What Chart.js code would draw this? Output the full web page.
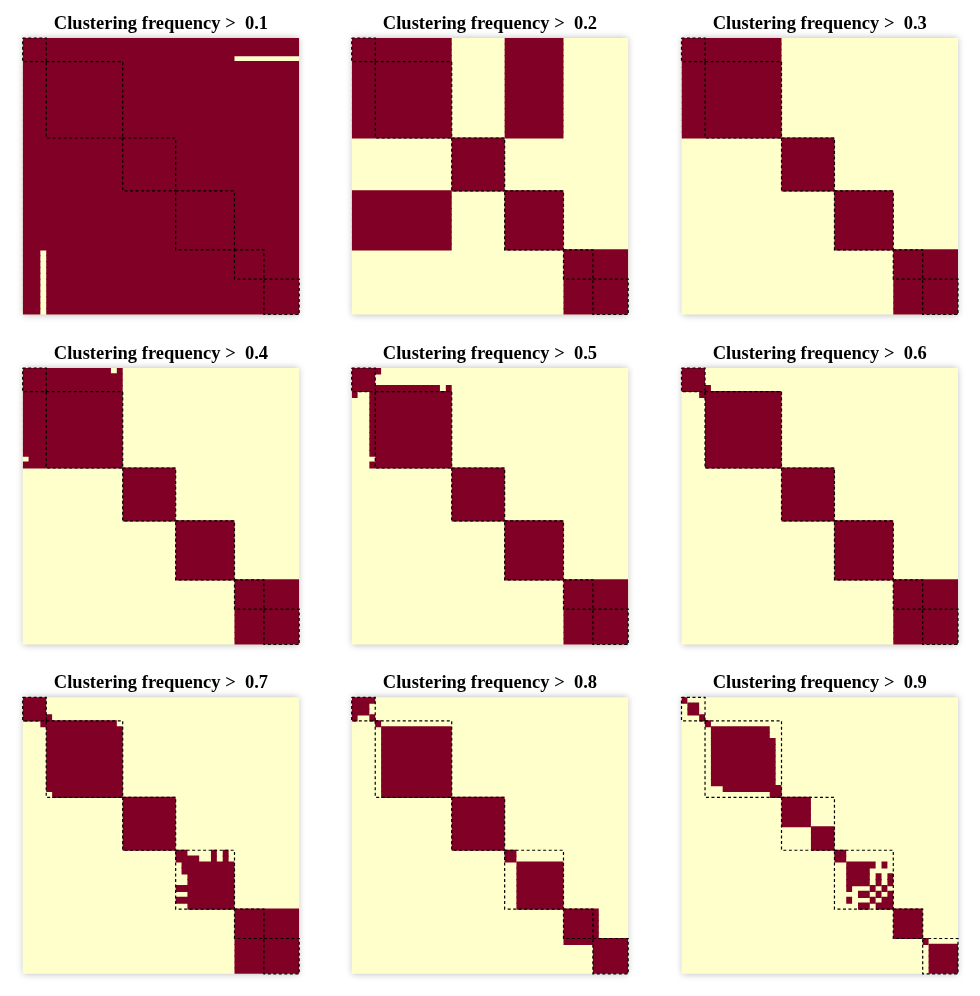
<!DOCTYPE html>
<html>
<head>
<meta charset="utf-8">
<script src="https://cdn.jsdelivr.net/npm/chart.js@4"></script>
<style>
  body { margin: 0; background: #fff; }
  #wrap { position: relative; width: 980px; height: 996px; }
  #wrap canvas { position: absolute; }
</style>
</head>
<body>
<div id="wrap"></div>
<script>
// 47 items, ordered as in the figure
var nItems = 47;
var thresholds = ['0.1', '0.2', '0.3', '0.4', '0.5', '0.6', '0.7', '0.8', '0.9'];

// reference clustering (dashed boxes), first/last item of each cluster
var refClusters = [[0, 3], [4, 16], [17, 25], [26, 35], [36, 40], [41, 46]];

// co-clustered blocks per threshold: [row from, row to, col from, col to] (symmetric)
var on01 = [[0, 46, 0, 46]];
var off01 = [[3, 3, 36, 46]];

var on02 = [[0, 16, 0, 16], [0, 16, 26, 35], [17, 25, 17, 25], [26, 35, 26, 35], [36, 46, 36, 46]];

var on03 = [[0, 16, 0, 16], [17, 25, 17, 25], [26, 35, 26, 35], [36, 46, 36, 46]];

var on04 = [[0, 16, 0, 16], [17, 25, 17, 25], [26, 35, 26, 35], [36, 46, 36, 46]];
var off04 = [[0, 0, 15, 15]];

var on05 = [[0, 3, 0, 3], [0, 0, 4, 4], [3, 16, 3, 16], [17, 25, 17, 25], [26, 35, 26, 35], [36, 46, 36, 46]];
var off05 = [[3, 3, 15, 15]];

var on06 = [[0, 3, 0, 3], [3, 3, 4, 4], [4, 16, 4, 16], [17, 25, 17, 25], [26, 35, 26, 35], [36, 46, 36, 46]];

var on07 = [[0, 3, 0, 3], [3, 3, 4, 4], [4, 16, 4, 16], [17, 25, 17, 25],
            [26, 27, 26, 27], [27, 27, 28, 29], [26, 27, 32, 32], [26, 27, 34, 34], [28, 35, 28, 35],
            [36, 46, 36, 46]];
var off07 = [[4, 4, 16, 16]];

var on08 = [[0, 2, 0, 2], [0, 0, 3, 3], [3, 3, 3, 3], [4, 4, 4, 4], [5, 16, 5, 16], [17, 25, 17, 25],
            [26, 27, 26, 27], [28, 35, 28, 35], [36, 41, 36, 41], [41, 46, 41, 46]];

var on09 = [[0, 0, 0, 0], [1, 2, 1, 2], [3, 3, 3, 3], [4, 4, 4, 4],
            [5, 6, 5, 14], [7, 14, 5, 15], [15, 15, 7, 16], [16, 16, 15, 16],
            [17, 21, 17, 21], [22, 25, 22, 25], [26, 27, 26, 27],
            [28, 28, 28, 32], [28, 28, 34, 34], [29, 31, 28, 31], [30, 31, 33, 33], [30, 31, 35, 35],
            [32, 32, 32, 32], [32, 32, 34, 34], [33, 33, 33, 33], [33, 33, 35, 35], [34, 34, 34, 35], [35, 35, 35, 35],
            [36, 40, 36, 40], [41, 41, 41, 41], [42, 46, 42, 46]];

var panels = [
  { t: thresholds[0], on: on01, off: off01 },
  { t: thresholds[1], on: on02, off: [] },
  { t: thresholds[2], on: on03, off: [] },
  { t: thresholds[3], on: on04, off: off04 },
  { t: thresholds[4], on: on05, off: off05 },
  { t: thresholds[5], on: on06, off: [] },
  { t: thresholds[6], on: on07, off: off07 },
  { t: thresholds[7], on: on08, off: [] },
  { t: thresholds[8], on: on09, off: [] }
];

var darkRed = '#800026';
var cream = '#FFFFCC';

// page layout of the 3x3 grid
var colLeft = [22.7, 351.7, 681.5];
var rowTop = [38, 368, 697.3];
var side = 276.5;
var titleH = 36;
var titleSize = 18.5;
var titlePadTop = 10.7;

function buildMatrix(on, off) {
  var m = [];
  for (var r = 0; r < nItems; r++) { m.push(new Array(nItems).fill(0)); }
  function set(list, v) {
    list.forEach(function (b) {
      for (var r = b[0]; r <= b[1]; r++) {
        for (var c = b[2]; c <= b[3]; c++) { m[r][c] = v; m[c][r] = v; }
      }
    });
  }
  set(on, 1);
  set(off, 0);
  return m;
}

function rowRuns(row) {
  var runs = [], start = -1;
  for (var c = 0; c <= row.length; c++) {
    var v = c < row.length ? row[c] : 0;
    if (v && start < 0) start = c;
    if (!v && start >= 0) { runs.push([start, c]); start = -1; }
  }
  return runs;
}

var panelBg = {
  id: 'panelBg',
  beforeDatasetsDraw: function (chart) {
    var a = chart.chartArea, ctx = chart.ctx;
    ctx.save();
    ctx.shadowColor = 'rgba(0,0,0,0.28)';
    ctx.shadowBlur = 7;
    ctx.fillStyle = cream;
    ctx.fillRect(a.left, a.top, a.right - a.left, a.bottom - a.top);
    ctx.restore();
  }
};

var wrap = document.getElementById('wrap');

panels.forEach(function (p, i) {
  var pl = colLeft[i % 3], pt = rowTop[Math.floor(i / 3)];
  var cl = Math.floor(pl) - 14, ct = Math.floor(pt) - titleH;
  var cw = 306, ch = 330;
  var canvas = document.createElement('canvas');
  canvas.width = cw; canvas.height = ch;
  canvas.style.left = cl + 'px'; canvas.style.top = ct + 'px';
  canvas.style.width = cw + 'px'; canvas.style.height = ch + 'px';
  wrap.appendChild(canvas);

  var m = buildMatrix(p.on, p.off);
  var runs = m.map(rowRuns);
  var maxRuns = Math.max.apply(null, runs.map(function (r) { return r.length; }));

  var datasets = [];
  for (var k = 0; k < maxRuns; k++) {
    var data = [];
    runs.forEach(function (rr, r) {
      if (rr[k]) data.push({ y: r + 0.5, x: rr[k] });
    });
    datasets.push({
      type: 'bar',
      indexAxis: 'y',
      data: data,
      backgroundColor: darkRed,
      borderWidth: 0,
      grouped: false,
      categoryPercentage: 1,
      barPercentage: 1.2, // overlap rows a little so no seams show
      clip: 0
    });
  }

  refClusters.forEach(function (cl) {
    var a = cl[0], b = cl[1] + 1;
    datasets.push({
      type: 'line',
      data: [{ x: a, y: a }, { x: b, y: a }, { x: b, y: b }, { x: a, y: b }, { x: a, y: a }],
      borderColor: '#000',
      borderWidth: 1.2,
      borderDash: [3, 2.5],
      pointRadius: 0,
      fill: false,
      tension: 0,
      clip: false,
      order: -1
    });
  });

  new Chart(canvas.getContext('2d'), {
    type: 'bar',
    data: { datasets: datasets },
    options: {
      responsive: false,
      animation: false,
      events: [],
      layout: {
        padding: {
          left: pl - cl,
          right: cw - (pl - cl) - side,
          top: pt - ct - titleH,
          bottom: ch - (pt - ct) - side
        }
      },
      scales: {
        x: { type: 'linear', min: 0, max: nItems, offset: false, display: false },
        y: { type: 'linear', min: 0, max: nItems, offset: false, reverse: true, display: false }
      },
      plugins: {
        legend: { display: false },
        tooltip: { enabled: false },
        title: {
          display: true,
          text: 'Clustering frequency >  ' + p.t,
          color: '#000',
          font: { family: "'Liberation Serif', 'Times New Roman', serif", size: titleSize, weight: 'bold' },
          padding: { top: titlePadTop, bottom: titleH - titlePadTop - titleSize * 1.2 }
        }
      }
    },
    plugins: [panelBg]
  });
});
</script>
</body>
</html>
